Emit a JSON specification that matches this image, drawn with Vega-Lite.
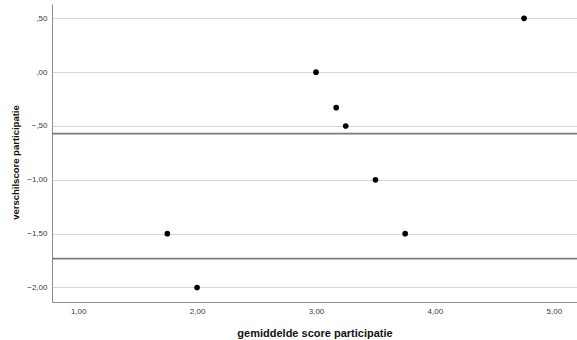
{
  "$schema": "https://vega.github.io/schema/vega-lite/v6.json",
  "autosize": {"type": "none"},
  "width": 525,
  "height": 298,
  "padding": {"left": 52, "top": 4, "right": 0, "bottom": 38},
  "background": "white",
  "config": {
    "view": {"stroke": null},
    "font": "Liberation Sans",
    "axis": {
      "domainColor": "#8c8c8c",
      "domainWidth": 1,
      "ticks": false,
      "labelFont": "Liberation Sans",
      "labelFontSize": 8,
      "labelColor": "#3a3a3a",
      "titleFont": "Liberation Sans",
      "titleFontSize": 11,
      "titleFontWeight": "bold",
      "titleColor": "#111111"
    }
  },
  "datasets": {
    "scores": [
      {"gemiddeld": 1.75, "verschil": -1.5},
      {"gemiddeld": 2.0, "verschil": -2.0},
      {"gemiddeld": 3.0, "verschil": 0.0},
      {"gemiddeld": 3.17, "verschil": -0.33},
      {"gemiddeld": 3.25, "verschil": -0.5},
      {"gemiddeld": 3.5, "verschil": -1.0},
      {"gemiddeld": 3.75, "verschil": -1.5},
      {"gemiddeld": 4.75, "verschil": 0.5}
    ],
    "grenzen": [
      {"grens": -0.571},
      {"grens": -1.732}
    ]
  },
  "layer": [
    {
      "data": {"name": "scores"},
      "mark": {"type": "point", "filled": true, "color": "#000000", "opacity": 1, "size": 32},
      "encoding": {
        "x": {
          "field": "gemiddeld",
          "type": "quantitative",
          "title": "gemiddelde score participatie",
          "scale": {"domain": [0.78, 5.195], "nice": false, "zero": false},
          "axis": {
            "values": [1, 2, 3, 4, 5],
            "grid": false,
            "labelPadding": 5,
            "titlePadding": 12,
            "labelExpr": "replace(replace(format(datum.value, '.2f'), '0.', ','), '.', ',')"
          }
        },
        "y": {
          "field": "verschil",
          "type": "quantitative",
          "title": "verschilscore participatie",
          "scale": {"domain": [-2.135, 0.633], "nice": false, "zero": false},
          "axis": {
            "values": [-2, -1.5, -1, -0.5, 0, 0.5],
            "grid": true,
            "gridColor": "#d6d6d6",
            "gridWidth": 1,
            "labelPadding": 5,
            "titlePadding": 6,
            "titleFontSize": 9.5,
            "titleY": 158,
            "labelExpr": "replace(replace(format(datum.value, '.2f'), '0.', ','), '.', ',')"
          }
        }
      }
    },
    {
      "data": {"name": "grenzen"},
      "mark": {"type": "rule", "color": "#7a7a7a", "strokeWidth": 1.6},
      "encoding": {
        "y": {"field": "grens", "type": "quantitative"}
      }
    }
  ]
}
